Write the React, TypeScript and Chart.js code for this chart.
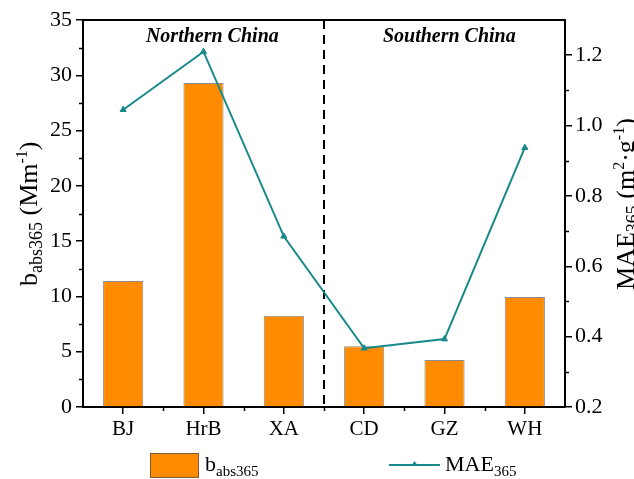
import React, { useEffect, useRef } from "react";
import { Chart, registerables } from "chart.js";

Chart.register(...registerables);

const categories = ["BJ", "HrB", "XA", "CD", "GZ", "WH"];
const babsValues = [11.4, 29.3, 8.25, 5.5, 4.25, 9.95];
const maeValues = [1.045, 1.21, 0.685, 0.367, 0.393, 0.937];
const regionLabels = ["Northern China", "Southern China"];
const leftTicksMax = 35;
const rightMin = 0.2;
const rightMax = 1.3;

const FONT = "'Liberation Serif', 'Times New Roman', serif";
const BAR_COLOR = "#FF8C00";
const LINE_COLOR = "#17898B";

type Seg = { t: string; size: number; dy: number };

function drawRich(ctx: CanvasRenderingContext2D, segs: Seg[], x: number, y: number, rotate: boolean, align: "center" | "left") {
  ctx.save();
  ctx.translate(x, y);
  if (rotate) ctx.rotate(-Math.PI / 2);
  ctx.textBaseline = "alphabetic";
  ctx.textAlign = "left";
  ctx.fillStyle = "#000";
  let total = 0;
  const widths = segs.map((s) => {
    ctx.font = `${s.size}px ${FONT}`;
    const w = ctx.measureText(s.t).width;
    total += w;
    return w;
  });
  let cx = align === "center" ? -total / 2 : 0;
  segs.forEach((s, i) => {
    ctx.font = `${s.size}px ${FONT}`;
    ctx.fillText(s.t, cx, s.dy);
    cx += widths[i];
  });
  ctx.restore();
}

const decorPlugin = {
  id: "decor",
  beforeDatasetsDraw(chart: any) {
    const { ctx, chartArea } = chart;
    const step = (chartArea.right - chartArea.left) / categories.length;
    const dx = chartArea.left + step * 3;
    ctx.save();
    ctx.strokeStyle = "#000";
    ctx.lineWidth = 2;
    ctx.setLineDash([9, 6]);
    ctx.beginPath();
    ctx.moveTo(dx, chartArea.top);
    ctx.lineTo(dx, chartArea.bottom);
    ctx.stroke();
    ctx.restore();
  },
  afterDraw(chart: any) {
    const { ctx, chartArea } = chart;
    const y = chart.scales.y;
    const y1 = chart.scales.y1;
    ctx.save();
    ctx.strokeStyle = "#000";
    ctx.lineWidth = 2;
    ctx.beginPath();
    ctx.moveTo(chartArea.left - 1, chartArea.top);
    ctx.lineTo(chartArea.right + 1, chartArea.top);
    ctx.stroke();
    ctx.lineWidth = 1.5;
    for (let v = 2.5; v < leftTicksMax; v += 5) {
      const py = Math.round(y.getPixelForValue(v)) + 0.5;
      ctx.beginPath();
      ctx.moveTo(chartArea.left, py);
      ctx.lineTo(chartArea.left - 4, py);
      ctx.stroke();
    }
    for (let v = 0.3; v < 1.25; v += 0.2) {
      const py = Math.round(y1.getPixelForValue(v)) + 0.5;
      ctx.beginPath();
      ctx.moveTo(chartArea.right, py);
      ctx.lineTo(chartArea.right + 4, py);
      ctx.stroke();
    }
    const step = (chartArea.right - chartArea.left) / categories.length;
    for (let k = 1; k < categories.length; k++) {
      const px = Math.round(chartArea.left + step * k) + 0.5;
      ctx.beginPath();
      ctx.moveTo(px, chartArea.bottom);
      ctx.lineTo(px, chartArea.bottom + 4);
      ctx.stroke();
    }
    ctx.restore();

    ctx.save();
    ctx.fillStyle = "#000";
    ctx.font = `italic bold 20px ${FONT}`;
    ctx.textAlign = "center";
    ctx.textBaseline = "alphabetic";
    ctx.fillText(regionLabels[0], chartArea.left + step * 1.61, 42);
    ctx.fillText(regionLabels[1], chartArea.left + step * 4.56, 42);
    ctx.restore();

    drawRich(ctx, [
      { t: "b", size: 26, dy: 0 },
      { t: "abs365", size: 18, dy: 5 },
      { t: " (Mm", size: 26, dy: 0 },
      { t: "-1", size: 16, dy: -10 },
      { t: ")", size: 26, dy: 0 },
    ], 37, 286, true, "left");
    drawRich(ctx, [
      { t: "MAE", size: 26, dy: 0 },
      { t: "365", size: 18, dy: 5 },
      { t: " (m", size: 26, dy: 0 },
      { t: "2", size: 16, dy: -10 },
      { t: "·g", size: 26, dy: 0 },
      { t: "-1", size: 16, dy: -10 },
      { t: ")", size: 26, dy: 0 },
    ], 634, 290, true, "left");

    ctx.save();
    ctx.fillStyle = BAR_COLOR;
    ctx.fillRect(150, 453, 48, 24);
    ctx.strokeStyle = "#7a5a3a";
    ctx.lineWidth = 1;
    ctx.strokeRect(150.5, 453.5, 48, 24);
    ctx.strokeStyle = LINE_COLOR;
    ctx.lineWidth = 2;
    ctx.beginPath();
    ctx.moveTo(389, 465);
    ctx.lineTo(440, 465);
    ctx.stroke();
    ctx.fillStyle = LINE_COLOR;
    ctx.beginPath();
    ctx.moveTo(414.5, 461);
    ctx.lineTo(418, 466);
    ctx.lineTo(411, 466);
    ctx.closePath();
    ctx.fill();
    ctx.restore();
    drawRich(ctx, [
      { t: "b", size: 22, dy: 0 },
      { t: "abs365", size: 15, dy: 5 },
    ], 205, 471, false, "left");
    drawRich(ctx, [
      { t: "MAE", size: 22, dy: 0 },
      { t: "365", size: 15, dy: 5 },
    ], 445, 471, false, "left");
  },
};

export default function App() {
  const ref = useRef<HTMLCanvasElement | null>(null);
  useEffect(() => {
    if (!ref.current) return;
    const chart = new Chart(ref.current, {
      type: "bar",
      data: {
        labels: categories,
        datasets: [
          {
            type: "line" as const,
            label: "MAE365",
            data: maeValues,
            yAxisID: "y1",
            borderColor: LINE_COLOR,
            backgroundColor: LINE_COLOR,
            borderWidth: 2,
            pointStyle: "triangle",
            pointRadius: 3.5,
            pointBorderWidth: 1,
            tension: 0,
            order: 0,
          },
          {
            type: "bar" as const,
            label: "babs365",
            data: babsValues,
            yAxisID: "y",
            backgroundColor: BAR_COLOR,
            borderColor: "#8c8c8c",
            borderWidth: 1,
            barPercentage: 0.5,
            categoryPercentage: 1,
            order: 1,
          },
        ],
      },
      options: {
        animation: false,
        responsive: true,
        maintainAspectRatio: false,
        layout: { padding: { top: 20, left: 0, right: 0, bottom: 0 } },
        plugins: { legend: { display: false }, tooltip: { enabled: false } },
        scales: {
          x: {
            offset: true,
            grid: { display: true, drawOnChartArea: false, drawTicks: true, tickLength: 7, color: "#000", lineWidth: 1.5, offset: false },
            border: { display: true, color: "#000", width: 2 },
            ticks: { color: "#000", font: { family: FONT, size: 21 }, padding: 3 },
            afterFit: (s: any) => { s.height = 72; },
          },
          y: {
            position: "left",
            min: 0,
            max: leftTicksMax,
            grid: { display: true, drawOnChartArea: false, drawTicks: true, tickLength: 7, color: "#000", lineWidth: 1.5 },
            border: { display: true, color: "#000", width: 2 },
            ticks: { stepSize: 5, color: "#000", font: { family: FONT, size: 22 }, padding: 4 },
            afterFit: (s: any) => { s.width = 83; },
          },
          y1: {
            position: "right",
            min: rightMin,
            max: rightMax,
            grid: { display: true, drawOnChartArea: false, drawTicks: true, tickLength: 7, color: "#000", lineWidth: 1.5 },
            border: { display: true, color: "#000", width: 2 },
            ticks: { stepSize: 0.2, color: "#000", font: { family: FONT, size: 22 }, padding: 3, callback: (v: any) => Number(v).toFixed(1) },
            afterBuildTicks: (s: any) => {
              s.ticks = s.ticks.filter((t: any) => Math.abs(Math.round(t.value * 5) - t.value * 5) < 1e-6);
            },
            afterFit: (s: any) => { s.width = 69; },
          },
        },
      },
      plugins: [decorPlugin],
    });
    return () => chart.destroy();
  }, []);
  return (
    <div style={{ position: "fixed", left: 0, top: 0, width: 634, height: 479, background: "#fff" }}>
      <canvas ref={ref} />
    </div>
  );
}
